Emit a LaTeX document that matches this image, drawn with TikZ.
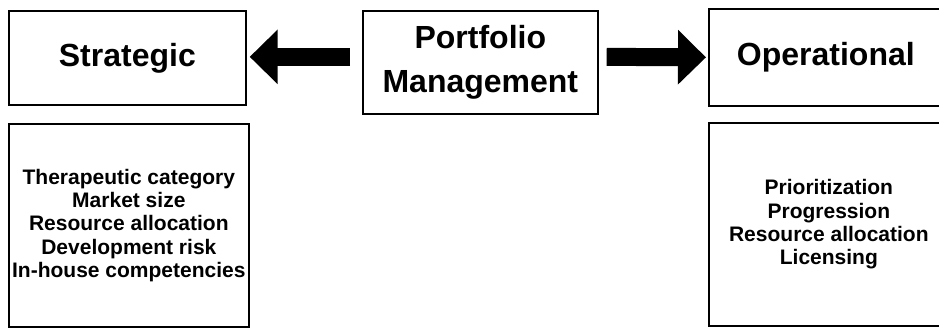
\documentclass[tikz,border=0pt]{standalone}
\usepackage{fontspec}
\setmainfont{Liberation Sans}
\usetikzlibrary{arrows.meta}

\tikzset{
  panel/.style={draw=black, line width=1.7pt, fill=white, inner sep=0pt,
                anchor=north west, align=center},
  headtext/.style={font=\bfseries\fontsize{32}{44}\selectfont},
  listtext/.style={font=\bfseries\fontsize{21}{23.3}\selectfont},
  blockarrow/.style={line width=18pt, draw=black,
                     -{Triangle[width=53pt,length=28pt]}}
}

\begin{document}
\begin{tikzpicture}[x=1pt, y=-1pt]
  \useasboundingbox (0,0) rectangle (939,327);
  \clip (0,0) rectangle (939,327);

  % top row: the three headings
  \node[panel, headtext, minimum width=237pt, minimum height=94pt]
    (strat) at (8,10) {Strategic};
  \node[panel, headtext, minimum width=235pt, minimum height=103pt]
    (port) at (362,10) {Portfolio\\Management};
  \node[panel, headtext, minimum width=234pt, minimum height=97pt]
    (oper) at (708,8) {Operational};

  % bottom row: what each heading covers
  \node[panel, listtext, minimum width=240pt, minimum height=203pt]
    (stratlist) at (8,123)
    {Therapeutic category\\Market size\\Resource allocation\\Development risk\\In-house competencies};
  \node[panel, listtext, minimum width=240pt, minimum height=203pt]
    (operlist) at (708,122)
    {Prioritization\\Progression\\Resource allocation\\Licensing};

  % block arrows leading out of portfolio management
  \draw[blockarrow] ([xshift=-12pt,yshift=5.5pt]port.west) -- ([xshift=3pt,yshift=1pt]strat.east);
  \draw[blockarrow] ([xshift=8pt,yshift=5.5pt]port.east) -- ([xshift=-2pt]oper.west);
\end{tikzpicture}
\end{document}
